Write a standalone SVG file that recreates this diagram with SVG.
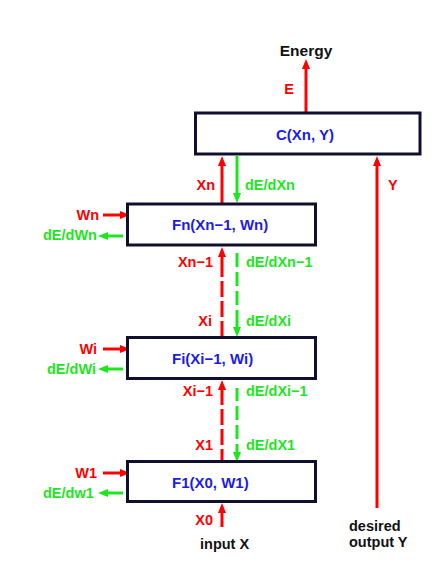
<svg xmlns="http://www.w3.org/2000/svg" width="441" height="581" viewBox="0 0 441 581">
<style>
  .box { fill: #ffffff; stroke: #10102e; stroke-width: 3; }
  .blabel { font-family: "Liberation Sans", Arial, sans-serif; font-weight: bold; font-size: 15px; fill: #1c1ce6; }
  .r { stroke: #ff0000; stroke-width: 3; fill: none; }
  .g { stroke: #1ee61e; stroke-width: 3; fill: none; }
  .lab { font-family: "Liberation Sans", Arial, sans-serif; font-weight: bold; font-size: 14.5px; }
  .rt { fill: #ff0000; }
  .gt { fill: #1ee61e; }
  .kt { fill: #111111; }
</style>
<defs>
  <marker id="ar" markerUnits="userSpaceOnUse" markerWidth="12" markerHeight="10" viewBox="0 -5 12 10" refX="0" refY="0" orient="auto" overflow="visible">
    <path d="M0,-4 L10,0 L0,4 z" fill="#ff0000"/>
  </marker>
  <marker id="ag" markerUnits="userSpaceOnUse" markerWidth="12" markerHeight="10" viewBox="0 -5 12 10" refX="0" refY="0" orient="auto" overflow="visible">
    <path d="M0,-4 L10,0 L0,4 z" fill="#1ee61e"/>
  </marker>
</defs>

<g id="connectors">
  <!-- Energy out -->
  <line class="r" x1="306" y1="112" x2="306" y2="69" marker-end="url(#ar)"/>
  <!-- Xn up -->
  <line class="r" x1="222" y1="203" x2="222" y2="166" marker-end="url(#ar)"/>
  <!-- dE/dXn down -->
  <line class="g" x1="237" y1="156" x2="237" y2="193" marker-end="url(#ag)"/>
  <!-- Y up -->
  <line class="r" x1="377" y1="508" x2="377" y2="166" marker-end="url(#ar)"/>
  <!-- Wn in, dE/dWn out -->
  <line class="r" x1="103" y1="215" x2="120" y2="215" marker-end="url(#ar)"/>
  <line class="g" x1="123" y1="236" x2="108" y2="236" marker-end="url(#ag)"/>
  <!-- Xn-1 ... Xi dashed up -->
  <line class="r" x1="222" y1="337" x2="222" y2="257" stroke-dasharray="16 4 16 4 16 4 60" marker-end="url(#ar)"/>
  <!-- dE/dXn-1 ... dE/dXi dashed down -->
  <line class="g" x1="237" y1="253" x2="237" y2="327" stroke-dasharray="14 5 14 5 14 5 40" marker-end="url(#ag)"/>
  <!-- Wi in, dE/dWi out -->
  <line class="r" x1="103" y1="349" x2="120" y2="349" marker-end="url(#ar)"/>
  <line class="g" x1="123" y1="369" x2="108" y2="369" marker-end="url(#ag)"/>
  <!-- Xi-1 ... X1 dashed up -->
  <line class="r" x1="222" y1="461" x2="222" y2="390" stroke-dasharray="12 4 16 4 16 4 60" marker-end="url(#ar)"/>
  <!-- dE/dXi-1 ... dE/dX1 dashed down -->
  <line class="g" x1="237" y1="388" x2="237" y2="452" stroke-dasharray="13 5 14 5 14 5 40" marker-end="url(#ag)"/>
  <!-- W1 in, dE/dw1 out -->
  <line class="r" x1="103" y1="473" x2="120" y2="473" marker-end="url(#ar)"/>
  <line class="g" x1="123" y1="493" x2="108" y2="493" marker-end="url(#ag)"/>
  <!-- X0 up -->
  <line class="r" x1="222" y1="527" x2="222" y2="513" marker-end="url(#ar)"/>
</g>

<g id="node-C">
  <rect class="box" x="195.5" y="113" width="224.5" height="41"/>
  <text class="blabel" x="276" y="140">C(Xn, Y)</text>
</g>
<g id="node-Fn">
  <rect class="box" x="127.5" y="204" width="188" height="41"/>
  <text class="blabel" x="172" y="230">Fn(Xn−1, Wn)</text>
</g>
<g id="node-Fi">
  <rect class="box" x="127.5" y="337.5" width="188" height="41"/>
  <text class="blabel" x="172" y="364">Fi(Xi−1, Wi)</text>
</g>
<g id="node-F1">
  <rect class="box" x="127.5" y="461.5" width="188" height="40"/>
  <text class="blabel" x="172" y="488">F1(X0, W1)</text>
</g>

<g id="labels">
  <text class="lab kt" x="306" y="56" text-anchor="middle" style="font-size:15.5px">Energy</text>
  <text class="lab rt" x="289" y="94" text-anchor="middle">E</text>
  <text class="lab rt" x="215" y="190" text-anchor="end">Xn</text>
  <text class="lab gt" x="245" y="190">dE/dXn</text>
  <text class="lab rt" x="388" y="190">Y</text>
  <text class="lab rt" x="99" y="220" text-anchor="end">Wn</text>
  <text class="lab gt" x="43" y="240">dE/dWn</text>
  <text class="lab rt" x="213" y="267" text-anchor="end">Xn−1</text>
  <text class="lab gt" x="246" y="267">dE/dXn−1</text>
  <text class="lab rt" x="212" y="326" text-anchor="end">Xi</text>
  <text class="lab gt" x="246" y="326">dE/dXi</text>
  <text class="lab rt" x="97" y="354" text-anchor="end">Wi</text>
  <text class="lab gt" x="47" y="374">dE/dWi</text>
  <text class="lab rt" x="213" y="396" text-anchor="end">Xi−1</text>
  <text class="lab gt" x="246" y="396">dE/dXi−1</text>
  <text class="lab rt" x="213" y="450" text-anchor="end">X1</text>
  <text class="lab gt" x="246" y="450">dE/dX1</text>
  <text class="lab rt" x="97" y="478" text-anchor="end">W1</text>
  <text class="lab gt" x="43" y="498">dE/dw1</text>
  <text class="lab rt" x="213" y="525" text-anchor="end">X0</text>
  <text class="lab kt" x="200" y="549">input X</text>
  <text class="lab kt" x="349" y="531">desired</text>
  <text class="lab kt" x="349" y="547">output Y</text>
</g>
</svg>
